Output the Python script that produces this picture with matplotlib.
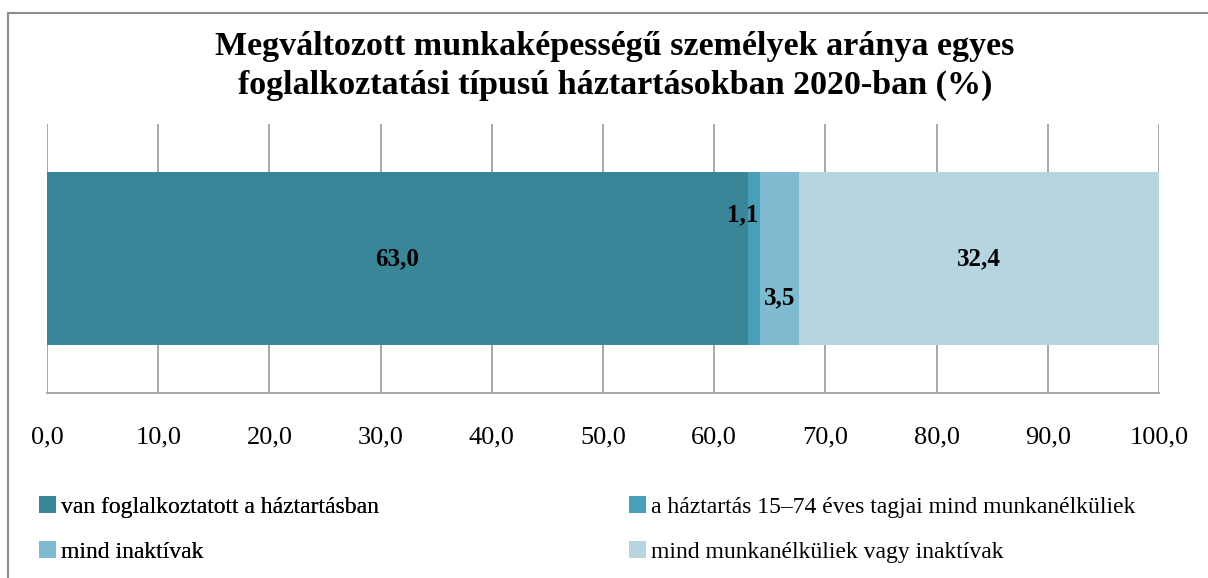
import matplotlib
matplotlib.use("Agg")
import matplotlib.pyplot as plt
from matplotlib.lines import Line2D
from matplotlib.patches import Patch

# adatok
kategoriak = ["van foglalkoztatott a háztartásban",
              "a háztartás 15–74 éves tagjai mind munkanélküliek",
              "mind inaktívak",
              "mind munkanélküliek vagy inaktívak"]
ertekek = [63.0, 1.1, 3.5, 32.4]
szinek = ["#3A8699", "#47A0B8", "#7FBBD0", "#B6D5E0"]
cimke_y = [0.5, 0.662, 0.353, 0.5]  # a kis szeletek cimkei fent/lent
x_tickek = [0, 10, 20, 30, 40, 50, 60, 70, 80, 90, 100]
cim = "Megváltozott munkaképességű személyek aránya egyes\nfoglalkoztatási típusú háztartásokban 2020-ban (%)"

plt.rcParams['font.family'] = ['Liberation Serif', 'DejaVu Serif']

W, H = 1208, 578
fig = plt.figure(figsize=(W / 100, H / 100), dpi=100)

# keret a diagram korul (csak felso es bal oldal latszik)
keret_x = [8 / W, 8 / W, 1.1]
keret_y = [-0.1, 1 - 13 / H, 1 - 13 / H]
fig.add_artist(Line2D(keret_x, keret_y, transform=fig.transFigure,
                      color="#8C8C8C", linewidth=1.5))

ax = fig.add_axes([47 / W, 185 / H, 1112 / W, 269 / H])

bal = 0
for i in range(len(ertekek)):
    ax.barh(0.5, ertekek[i], left=bal, height=0.643, color=szinek[i], zorder=2)
    xc = bal + ertekek[i] / 2
    if i == 1:
        xc = bal - 0.4
    ax.text(xc, cimke_y[i], f"{ertekek[i]:.1f}".replace(".", ","), ha="center", va="center",
            fontsize=18, fontweight="bold", zorder=3)
    bal += ertekek[i]

ax.set_xlim(0, 100)
ax.set_ylim(0, 1)
ax.set_xticks(x_tickek)
ax.set_xticklabels([f"{v:.1f}".replace(".", ",") for v in x_tickek], fontsize=19)
ax.set_yticks([])
ax.tick_params(axis="x", length=0, pad=24)
ax.grid(axis="x", color="#A0A0A0", linewidth=1.3, zorder=0)
for s in ["top", "left", "right"]:
    ax.spines[s].set_visible(False)
ax.spines["bottom"].set_color("#A0A0A0")
ax.spines["bottom"].set_linewidth(1.3)

fig.text(615 / W, 1 - 66 / H, cim, ha="center", va="center", fontsize=24.5,
         fontweight="bold", linespacing=1.36)

# jelmagyarazat ket oszlopban
h = [Patch(facecolor=c) for c in szinek]
leg_opts = dict(loc="upper left", frameon=False, fontsize=17,
                handlelength=0.7, handleheight=0.7, handletextpad=0.25,
                labelspacing=1.0, borderaxespad=0, borderpad=0)
leg1 = fig.legend([h[0], h[2]], [kategoriak[0], kategoriak[2]],
                  bbox_to_anchor=(39 / W, 1 - 496 / H), **leg_opts)
fig.add_artist(leg1)
fig.legend([h[1], h[3]], [kategoriak[1], kategoriak[3]],
           bbox_to_anchor=(629 / W, 1 - 496 / H), **leg_opts)

fig.savefig("out.png", dpi=100)
